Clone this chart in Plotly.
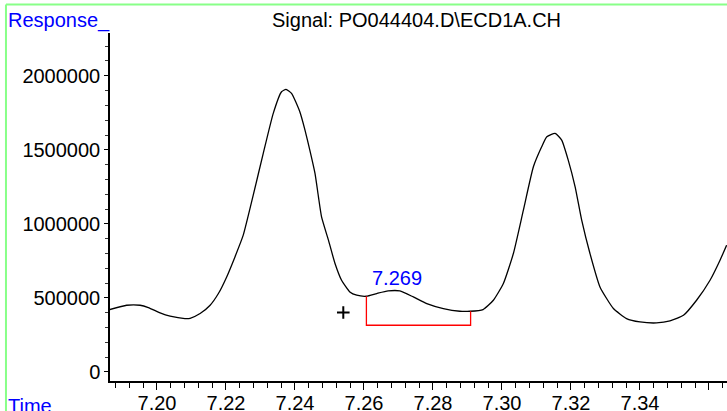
import plotly.graph_objects as go

# Chromatogram trace (time in min, response)
time = [7.1861, 7.1912, 7.1951, 7.1975, 7.2009, 7.2038, 7.2081, 7.2096, 7.2125, 7.2154,
        7.2178, 7.2202, 7.2226, 7.2250, 7.2279, 7.2308, 7.2337, 7.2361, 7.2374, 7.2390,
        7.2414, 7.2429, 7.2443, 7.2458, 7.2468, 7.2477, 7.2497, 7.2516, 7.2535, 7.2559,
        7.2579, 7.2607, 7.2637, 7.2670, 7.2704, 7.2743, 7.2782, 7.2830, 7.2878, 7.2907,
        7.2945, 7.2975, 7.3004, 7.3033, 7.3062, 7.3091, 7.3115, 7.3130, 7.3154, 7.3173,
        7.3192, 7.3212, 7.3231, 7.3255, 7.3284, 7.3323, 7.3361, 7.3400, 7.3448, 7.3487,
        7.3526, 7.3564, 7.3603, 7.3632, 7.3651]
response = [420300, 450700, 450700, 435200, 398700, 376400, 360800, 362800, 394600, 450700,
            529700, 641900, 777100, 923700, 1194000, 1475700, 1746000, 1892000, 1908000, 1881000,
            1756800, 1633200, 1498000, 1340600, 1182500, 1047300, 889900, 732500, 619600, 540600,
            518300, 511500, 529700, 547300, 547300, 506800, 462200, 428400, 410100, 410100,
            421600, 484500, 597300, 800000, 1092600, 1385200, 1520300, 1587900, 1610900, 1565600,
            1430500, 1250000, 1025000, 800000, 574300, 428400, 360800, 337900, 331100, 344600,
            383100, 484500, 619600, 754800, 856100]

# Integration baseline bracket of the labelled peak
bracket_t = [7.2607, 7.2607, 7.2909, 7.2909]
bracket_r = [511500, 315600, 315600, 410100]
peak_label = "7.269"
peak_label_t = 7.2695
peak_label_r = 633000
cross_t = [7.2540]
cross_r = [401400]

x_tickvals = [7.20, 7.22, 7.24, 7.26, 7.28, 7.30, 7.32, 7.34, 7.36]
x_ticktext = ["7.20", "7.22", "7.24", "7.26", "7.28", "7.30", "7.32", "7.34", ""]
y_tickvals = [0, 500000, 1000000, 1500000, 2000000]
y_ticktext = ["0", "500000", "1000000", "1500000", "2000000"]

FONT = "Arial, Liberation Sans, sans-serif"

fig = go.Figure()
fig.add_trace(go.Scatter(x=time, y=response, mode="lines",
                         line=dict(color="black", width=1.3, shape="spline", smoothing=0.5),
                         hoverinfo="skip", showlegend=False, cliponaxis=True))
fig.add_trace(go.Scatter(x=bracket_t, y=bracket_r, mode="lines",
                         line=dict(color="#ff0000", width=1.3),
                         hoverinfo="skip", showlegend=False))
fig.add_trace(go.Scatter(x=cross_t, y=cross_r, mode="markers",
                         marker=dict(symbol="cross-thin", size=9, line=dict(color="black", width=2)),
                         hoverinfo="skip", showlegend=False))

fig.add_annotation(x=peak_label_t, y=peak_label_r, text=peak_label, showarrow=False,
                   font=dict(family=FONT, size=20, color="#0000ff"))
fig.add_annotation(xref="paper", yref="paper", x=0.496, y=1.0, yshift=13, text="Signal: PO044404.D\\ECD1A.CH",
                   showarrow=False, xanchor="center", yanchor="middle",
                   font=dict(family=FONT, size=20, color="black"))
fig.add_annotation(xref="paper", yref="paper", x=-0.1686, y=1.0, yshift=13, text="Response_",
                   showarrow=False, xanchor="left", yanchor="middle",
                   font=dict(family=FONT, size=20, color="#0000ff"))
fig.add_annotation(xref="paper", yref="paper", x=-0.1686, y=0, yshift=-12, text="Time",
                   showarrow=False, xanchor="left", yanchor="top",
                   font=dict(family=FONT, size=20, color="#0000ff"))

# light green frame (top and left)
fig.add_shape(type="line", xref="paper", yref="paper", x0=-0.1686, x1=1.0, y0=1.082, y1=1.082,
              line=dict(color="#88ff88", width=2))
fig.add_shape(type="line", xref="paper", yref="paper", x0=-0.1686, x1=-0.1686, y0=1.082, y1=-0.09,
              line=dict(color="#88ff88", width=2))

fig.update_layout(
    width=727, height=411,
    margin=dict(l=110, r=0, t=33, b=30, autoexpand=False),
    paper_bgcolor="white", plot_bgcolor="white",
    font=dict(family=FONT, size=20, color="black"),
    xaxis=dict(range=[7.18638, 7.36522], tickmode="array", tickvals=x_tickvals, ticktext=x_ticktext,
               ticks="outside", ticklen=7, tickwidth=1.3, tickcolor="black", automargin=False,
               ticklabelstandoff=-4,
               showline=True, linecolor="black", linewidth=1.5, showgrid=False, zeroline=False,
               minor=dict(tick0=7.2, dtick=0.004, ticks="outside", ticklen=5, tickwidth=1.2, tickcolor="black"),
               tickfont=dict(family=FONT, size=20, color="black")),
    yaxis=dict(range=[-60800, 2288600], tickmode="array", tickvals=y_tickvals, ticktext=y_ticktext,
               ticks="outside", ticklen=4, tickwidth=1.2, tickcolor="black", automargin=False,
               showline=True, linecolor="black", linewidth=1.5, showgrid=False, zeroline=False,
               minor=dict(tick0=0, dtick=100000, ticks="outside", ticklen=3, tickwidth=1, tickcolor="#333"),
               tickfont=dict(family=FONT, size=20, color="black")),
)

fig.write_html("out.html", config={"displayModeBar": False},
               post_script="document.body.style.margin='0';document.body.style.overflow='hidden';")
